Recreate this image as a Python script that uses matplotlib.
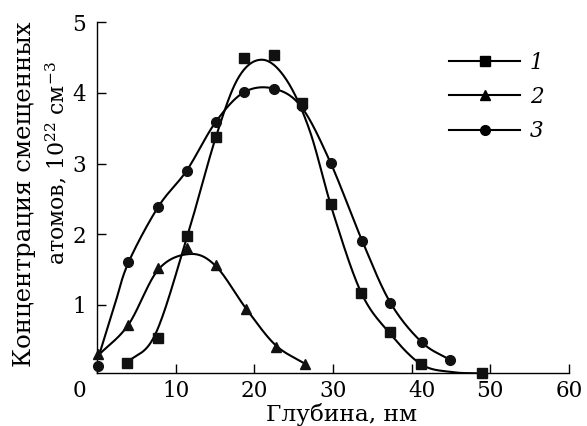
import numpy as np
import matplotlib
matplotlib.use("Agg")
import matplotlib.pyplot as plt
import matplotlib.transforms as mtransforms
from matplotlib.lines import Line2D

plt.rcParams["font.family"] = ["DejaVu Serif"]
plt.rcParams["mathtext.fontset"] = "dejavuserif"

# --- measured points (depth, nm ; concentration, 1e22 cm^-3) ---
x1 = [3.8, 7.8, 11.5, 15.1, 18.7, 22.5, 26.0, 29.7, 33.6, 37.2, 41.2, 48.9]
y1 = [0.18, 0.53, 1.98, 3.37, 4.50, 4.54, 3.86, 2.43, 1.17, 0.61, 0.16, 0.03]
x2 = [0.1, 4.0, 7.8, 11.4, 15.1, 19.0, 22.7, 26.4]
y2 = [0.31, 0.72, 1.52, 1.81, 1.57, 0.94, 0.41, 0.17]
x3 = [0.1, 4.0, 7.8, 11.4, 15.1, 18.7, 22.5, 26.0, 29.7, 33.7, 37.3, 41.3, 44.9]
y3 = [0.13, 1.60, 2.39, 2.90, 3.59, 4.01, 4.06, 3.82, 3.01, 1.91, 1.03, 0.47, 0.22]

# --- guide curves as drawn in the figure (knots) ---
c1x = [3.8, 7.4, 11.5, 15.1, 18.0, 21.0, 24.0, 27.0, 30.0, 33.6, 37.2, 41.2, 45.0, 48.9]
c1y = [0.18, 0.58, 1.98, 3.37, 4.22, 4.47, 4.20, 3.48, 2.31, 1.17, 0.60, 0.16, 0.05, 0.03]
c2x = [0.3, 4.0, 7.8, 11.8, 15.1, 19.0, 22.7, 26.4]
c2y = [0.30, 0.72, 1.50, 1.72, 1.55, 0.94, 0.43, 0.17]
c3x = [0.3, 2.2, 4.0, 7.8, 11.4, 15.1, 18.7, 22.5, 26.0, 29.7, 33.7, 37.3, 41.3, 44.9]
c3y = [0.30, 0.98, 1.60, 2.39, 2.90, 3.59, 4.01, 4.06, 3.80, 3.01, 1.91, 1.03, 0.47, 0.22]

labels = ["1", "2", "3"]


def catmull_rom(xs, ys, n=30):
    p = np.column_stack([xs, ys]).astype(float)
    p = np.vstack([2 * p[0] - p[1], p, 2 * p[-1] - p[-2]])
    t = np.linspace(0, 1, n, endpoint=False)[:, None]
    out = []
    for i in range(1, len(p) - 2):
        p0, p1, p2, p3 = p[i - 1], p[i], p[i + 1], p[i + 2]
        seg = 0.5 * (2 * p1 + (-p0 + p2) * t
                     + (2 * p0 - 5 * p1 + 4 * p2 - p3) * t ** 2
                     + (-p0 + 3 * p1 - 3 * p2 + p3) * t ** 3)
        out.append(seg)
    out.append(p[-2][None])
    arr = np.vstack(out)
    return arr[:, 0], arr[:, 1]


def fit_length(txt, target_px, vertical=False):
    # scale font so the label spans the same length as in the original
    fig.canvas.draw()
    bb = txt.get_window_extent(fig.canvas.get_renderer())
    cur = bb.height if vertical else bb.width
    txt.set_fontsize(txt.get_fontsize() * target_px / cur)


fig = plt.figure(figsize=(5.87, 4.26), dpi=100)
ax = fig.add_axes([0.1652, 0.1251, 0.8041, 0.8226])

lw = 1.5
for cx, cy in [(c1x, c1y), (c2x, c2y), (c3x, c3y)]:
    sx, sy = catmull_rom(cx, cy)
    ax.plot(sx, sy, color="black", lw=lw, solid_capstyle="round")

ax.plot(x1, y1, "s", color="#111111", ms=6.8, clip_on=False, zorder=3)
ax.plot(x2, y2, "^", color="#111111", ms=7.5, clip_on=False, zorder=3)
ax.plot(x3, y3, "o", color="#111111", ms=7.0, clip_on=False, zorder=3)

ax.set_xlim(0, 60)
ax.set_ylim(0.04, 5)
ax.set_xticks([0, 10, 20, 30, 40, 50, 60])
ax.set_yticks([1, 2, 3, 4, 5])
ax.spines["top"].set_visible(False)
ax.spines["right"].set_visible(False)
for s in ("left", "bottom"):
    ax.spines[s].set_linewidth(1.0)
ax.tick_params(direction="in", length=6.5, width=1.0, labelsize=15.5, pad=5.5)
ax.tick_params(axis="y", pad=8)

# first and "40" labels sit off-centre in the original
xt = ax.xaxis.get_major_ticks()
xt[0].label1.set_transform(xt[0].label1.get_transform()
                           + mtransforms.ScaledTranslation(-0.18, 0, fig.dpi_scale_trans))
xt[4].label1.set_transform(xt[4].label1.get_transform()
                           + mtransforms.ScaledTranslation(0.10, 0, fig.dpi_scale_trans))

xl = fig.text(342 / 587, 1 - 420.5 / 426, "Глубина, нм", ha="center", va="baseline",
              fontsize=15)
yl1 = fig.text(25 / 587, 1 - 194 / 426, "Концентрация смещенных", rotation=90,
               ha="center", va="center", fontsize=15)
yl2 = fig.text(57 / 587, 1 - 163 / 426, "атомов, 10$^{22}$ см$^{-3}$", rotation=90,
               ha="center", va="center", fontsize=15)
fit_length(xl, 152)
fit_length(yl1, 348, vertical=True)
fit_length(yl2, 205, vertical=True)

handles = [
    Line2D([], [], color="black", lw=lw, marker="s", ms=7),
    Line2D([], [], color="black", lw=lw, marker="^", ms=7),
    Line2D([], [], color="black", lw=lw, marker="o", ms=7),
]
leg = fig.legend(handles, labels, loc="center left", bbox_to_anchor=(449 / 587, 1 - 97 / 426),
                 frameon=False, fontsize=15.5, handlelength=3.3, handletextpad=0.45,
                 labelspacing=0.58, borderpad=0, borderaxespad=0)
for t in leg.get_texts():
    t.set_fontstyle("italic")

fig.savefig("out.png", dpi=100)
